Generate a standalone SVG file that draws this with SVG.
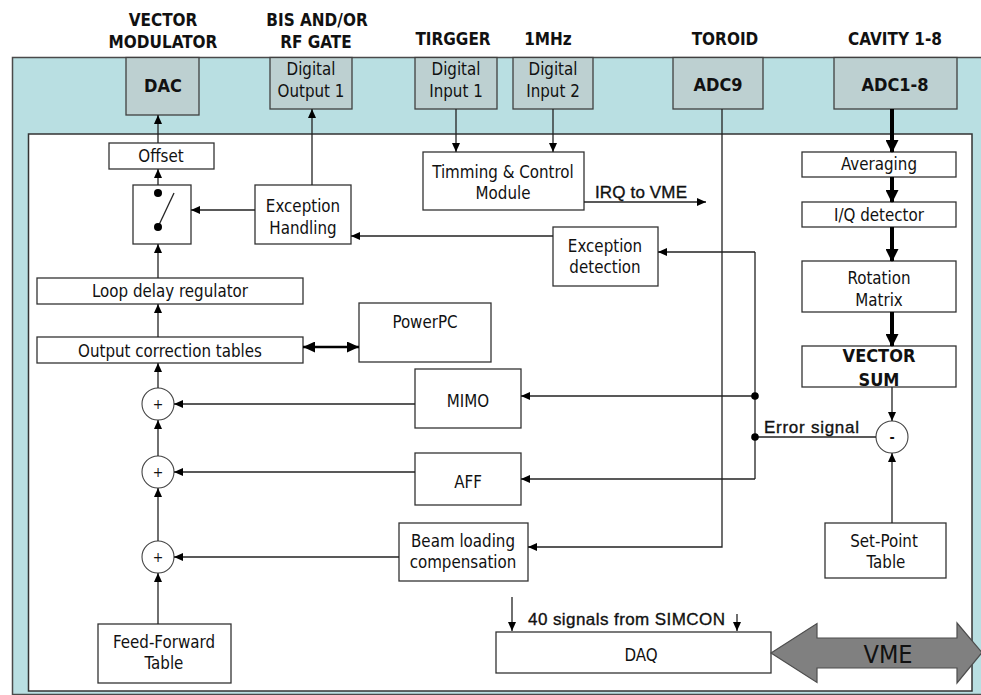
<svg xmlns="http://www.w3.org/2000/svg" width="981" height="695" viewBox="0 0 981 695">
  <style>
    .frame { fill: #b9dfe2; stroke: #4a4a4a; stroke-width: 1.5; }
    .panel { fill: #ffffff; stroke: #333333; stroke-width: 1.5; }
    .io { fill: #bdd0d1; stroke: #404040; stroke-width: 1.3; }
    .blk { fill: #ffffff; stroke: #333333; stroke-width: 1.3; }
    .sum { fill: #ffffff; stroke: #444444; stroke-width: 1.1; }
    .wire { fill: none; stroke: #222222; stroke-width: 1.3; }
    .thick { fill: none; stroke: #000000; stroke-width: 4; }
    .bus { fill: none; stroke: #000000; stroke-width: 2.6; }
    .dot { fill: #000000; }
    text { font-family: "DejaVu Sans Condensed", "DejaVu Sans", sans-serif; font-stretch: condensed; fill: #111111; text-anchor: middle; }
    .hdr { font-size: 17px; font-weight: bold; }
    .tag { font-size: 18px; font-weight: bold; }
    .lbl { font-size: 16.8px; }
    .note { font-family: "Liberation Sans", Arial, sans-serif; font-stretch: normal; font-size: 17px; text-anchor: start; stroke: #111111; stroke-width: 0.35; }
    .op { font-size: 14px; }
  </style>
  <defs>
    <marker id="ah" markerUnits="userSpaceOnUse" markerWidth="9" markerHeight="8" refX="9" refY="4" orient="auto">
      <path d="M0,0 L9,4 L0,8 z" fill="#000"/>
    </marker>
    <marker id="ahT" markerUnits="userSpaceOnUse" markerWidth="13" markerHeight="13" refX="12" refY="6.5" orient="auto">
      <path d="M0,0 L13,6.5 L0,13 z" fill="#000"/>
    </marker>
    <marker id="ahB" markerUnits="userSpaceOnUse" markerWidth="12" markerHeight="11" refX="12" refY="5.5" orient="auto-start-reverse">
      <path d="M0,0 L12,5.5 L0,11 z" fill="#000"/>
    </marker>
  </defs>

  <!-- signal names above the board -->
  <g id="headers">
    <text class="hdr" x="163" y="26">VECTOR</text>
    <text class="hdr" x="163" y="48">MODULATOR</text>
    <text class="hdr" x="317" y="26">BIS AND/OR</text>
    <text class="hdr" x="316" y="48">RF GATE</text>
    <text class="hdr" x="453" y="45">TIRGGER</text>
    <text class="hdr" x="548" y="45">1MHz</text>
    <text class="hdr" x="725" y="45">TOROID</text>
    <text class="hdr" x="895" y="45">CAVITY 1-8</text>
  </g>

  <!-- board outline and inner logic area -->
  <rect class="frame" x="12.5" y="57.5" width="990" height="637"/>
  <rect class="panel" x="28.5" y="134" width="943.5" height="557"/>

  <!-- board I/O -->
  <g id="dac"><rect class="io" x="126" y="57.5" width="73" height="57.5"/><text class="tag" x="163" y="92">DAC</text></g>
  <g id="dout1"><rect class="io" x="270" y="57.5" width="82" height="51.5"/><text class="lbl" x="311" y="75">Digital</text><text class="lbl" x="311" y="97">Output 1</text></g>
  <g id="din1"><rect class="io" x="415" y="57.5" width="82" height="51.5"/><text class="lbl" x="456" y="75">Digital</text><text class="lbl" x="456" y="97">Input 1</text></g>
  <g id="din2"><rect class="io" x="513" y="57.5" width="80" height="51.5"/><text class="lbl" x="553" y="75">Digital</text><text class="lbl" x="553" y="97">Input 2</text></g>
  <g id="adc9"><rect class="io" x="673" y="57.5" width="90" height="51.5"/><text class="tag" x="718" y="91">ADC9</text></g>
  <g id="adc18"><rect class="io" x="834" y="57.5" width="123" height="51.5"/><text class="tag" x="895" y="91">ADC1-8</text></g>

  <!-- output chain -->
  <g id="offset"><rect class="blk" x="109" y="143" width="105" height="26"/><text class="lbl" x="161" y="162">Offset</text></g>
  <g id="switch">
    <rect class="blk" x="133" y="185" width="58" height="59"/>
    <line class="wire" x1="158" y1="227" x2="174" y2="193"/>
    <circle class="dot" cx="158" cy="193" r="4"/>
    <circle class="dot" cx="158" cy="227" r="4"/>
  </g>
  <g id="exc-handling"><rect class="blk" x="255" y="185" width="96" height="59"/><text class="lbl" x="303" y="212">Exception</text><text class="lbl" x="303" y="234">Handling</text></g>
  <g id="loop-delay"><rect class="blk" x="37" y="278" width="266" height="26"/><text class="lbl" x="170" y="297">Loop delay regulator</text></g>
  <g id="powerpc"><rect class="blk" x="359" y="303" width="132" height="59"/><text class="lbl" x="425" y="328">PowerPC</text></g>
  <g id="out-corr"><rect class="blk" x="37" y="337" width="266" height="26"/><text class="lbl" x="170" y="357">Output correction tables</text></g>
  <g id="sum1"><circle class="sum" cx="158" cy="404" r="16"/><text class="op" x="158" y="409">+</text></g>
  <g id="sum2"><circle class="sum" cx="158" cy="472" r="16"/><text class="op" x="158" y="477">+</text></g>
  <g id="sum3"><circle class="sum" cx="158" cy="557" r="16"/><text class="op" x="158" y="562">+</text></g>
  <g id="mimo"><rect class="blk" x="415" y="369" width="106" height="59"/><text class="lbl" x="468" y="407">MIMO</text></g>
  <g id="aff"><rect class="blk" x="415" y="453" width="106" height="52"/><text class="lbl" x="468" y="488">AFF</text></g>
  <g id="beam"><rect class="blk" x="399" y="523" width="129" height="58"/><text class="lbl" x="463" y="547">Beam loading</text><text class="lbl" x="463" y="568">compensation</text></g>
  <g id="feed-forward"><rect class="blk" x="98" y="624" width="133" height="59"/><text class="lbl" x="164" y="648">Feed-Forward</text><text class="lbl" x="164" y="669">Table</text></g>

  <!-- timing and exceptions -->
  <g id="timing"><rect class="blk" x="423" y="152" width="161" height="58"/><text class="lbl" x="503" y="178">Timming &amp; Control</text><text class="lbl" x="503" y="199">Module</text></g>
  <g id="exc-detection"><rect class="blk" x="553" y="227" width="105" height="59"/><text class="lbl" x="605" y="252">Exception</text><text class="lbl" x="605" y="273">detection</text></g>

  <!-- cavity signal chain -->
  <g id="averaging"><rect class="blk" x="802" y="152" width="154" height="25"/><text class="lbl" x="879" y="170">Averaging</text></g>
  <g id="iq"><rect class="blk" x="802" y="202" width="154" height="25"/><text class="lbl" x="879" y="221">I/Q detector</text></g>
  <g id="rotation"><rect class="blk" x="802" y="261" width="154" height="51"/><text class="lbl" x="879" y="284">Rotation</text><text class="lbl" x="879" y="306">Matrix</text></g>
  <g id="vector-sum"><rect class="blk" x="802" y="346" width="154" height="41"/><text class="tag" x="879" y="362">VECTOR</text><text class="tag" x="879" y="386">SUM</text></g>
  <g id="diff"><circle class="sum" cx="892" cy="437" r="16"/><text class="op" x="892" y="442" font-weight="bold">-</text></g>
  <g id="setpoint"><rect class="blk" x="825" y="523" width="121" height="55"/><text class="lbl" x="884" y="547">Set-Point</text><text class="lbl" x="886" y="568">Table</text></g>

  <!-- data acquisition -->
  <g id="daq"><rect class="blk" x="496" y="632" width="275" height="41"/><text class="lbl" x="641" y="661">DAQ</text></g>
  <g id="vme">
    <path d="M771,653 L817,623.5 L817,638 L957,638 L957,623 L982,652.5 L957,683 L957,668 L817,668 L817,682.5 z" fill="#808080" stroke="#4d4d4d" stroke-width="1.2"/>
    <text x="888" y="663" font-family="Liberation Sans, Arial, sans-serif" font-stretch="normal" font-size="25" fill="#1a1a1a">VME</text>
  </g>

  <g id="connectors">
    <path class="wire" d="M158,143 L158,115" marker-end="url(#ah)"/>
    <path class="wire" d="M158,185 L158,169" marker-end="url(#ah)"/>
    <path class="wire" d="M158,278 L158,244" marker-end="url(#ah)"/>
    <path class="wire" d="M158,337 L158,304" marker-end="url(#ah)"/>
    <path class="wire" d="M158,388 L158,363" marker-end="url(#ah)"/>
    <path class="wire" d="M158,456 L158,420" marker-end="url(#ah)"/>
    <path class="wire" d="M158,541 L158,488" marker-end="url(#ah)"/>
    <path class="wire" d="M158,624 L158,573" marker-end="url(#ah)"/>
    <path class="wire" d="M255,210 L191,210" marker-end="url(#ah)"/>
    <path class="wire" d="M312,185 L312,109" marker-end="url(#ah)"/>
    <path class="wire" d="M553,236 L351,236" marker-end="url(#ah)"/>
    <path class="wire" d="M456,109 L456,152" marker-end="url(#ah)"/>
    <path class="wire" d="M553,109 L553,152" marker-end="url(#ah)"/>
    <path class="wire" d="M584,202 L706,202" marker-end="url(#ah)"/>
    <path class="wire" d="M415,404 L174,404" marker-end="url(#ah)"/>
    <path class="wire" d="M415,472 L174,472" marker-end="url(#ah)"/>
    <path class="wire" d="M399,557 L174,557" marker-end="url(#ah)"/>
    <path class="wire" d="M722,109 L722,547 L528,547" marker-end="url(#ah)"/>
    <path class="wire" d="M755,252 L755,479"/>
    <path class="wire" d="M755,252 L658,252" marker-end="url(#ah)"/>
    <path class="wire" d="M755,396 L521,396" marker-end="url(#ah)"/>
    <path class="wire" d="M755,479 L521,479" marker-end="url(#ah)"/>
    <path class="wire" d="M876,437 L755,437"/>
    <circle class="dot" cx="755" cy="396" r="3.8"/>
    <circle class="dot" cx="755" cy="437" r="3.8"/>
    <path class="wire" d="M892,387 L892,421" marker-end="url(#ah)"/>
    <path class="wire" d="M892,523 L892,453" marker-end="url(#ah)"/>
    <path class="thick" d="M892,109 L892,152" marker-end="url(#ahT)"/>
    <path class="thick" d="M892,177 L892,202" marker-end="url(#ahT)"/>
    <path class="thick" d="M892,227 L892,261" marker-end="url(#ahT)"/>
    <path class="thick" d="M892,312 L892,346" marker-end="url(#ahT)"/>
    <path class="bus" d="M303,347 L359,347" marker-start="url(#ahB)" marker-end="url(#ahB)"/>
    <path class="wire" d="M512,597 L512,631" marker-end="url(#ah)"/>
    <path class="wire" d="M737,614 L737,631" marker-end="url(#ah)"/>
  </g>

  <!-- signal annotations -->
  <text class="note" x="595" y="198" textLength="92">IRQ to VME</text>
  <text class="note" x="764" y="433" textLength="95">Error signal</text>
  <text class="note" x="528" y="625" textLength="197">40 signals from SIMCON</text>
</svg>
